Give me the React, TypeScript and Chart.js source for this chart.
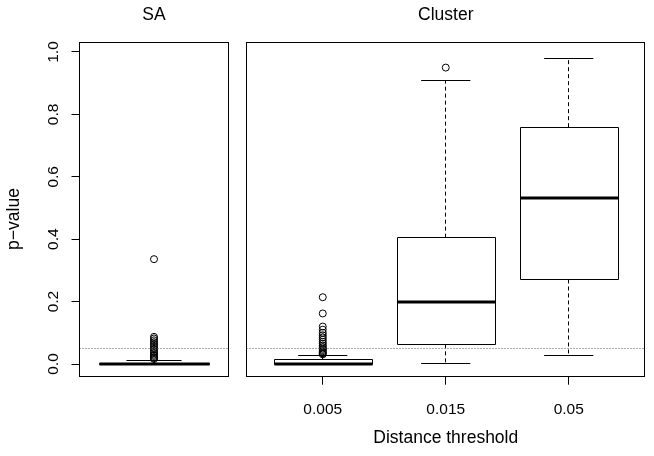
import React, { useEffect, useRef } from "react";
import { Chart, registerables } from "chart.js";

Chart.register(...registerables);

const FONT = "'Liberation Sans', Arial, Helvetica, sans-serif";

const panelTitles = ["SA", "Cluster"];
const clusterCategories = ["0.005", "0.015", "0.05"];
const yTickValues = [0, 0.2, 0.4, 0.6, 0.8, 1.0];
const yLabel = "p\u2212value";
const xLabel = "Distance threshold";
const refLine = 0.05;

// [lower whisker, Q1, median, Q3, upper whisker]
const saStats = [0, 0, 0.0005, 0.002, 0.012];
const saOutliers = [0.336, 0.087, 0.082, 0.076, 0.07, 0.064, 0.058, 0.052, 0.046, 0.04, 0.035, 0.03, 0.026, 0.022, 0.019, 0.016];

const stats0005 = [0, 0, 0.001, 0.014, 0.028];
const stats0015 = [0.001, 0.063, 0.198, 0.405, 0.908];
const stats005 = [0.028, 0.271, 0.533, 0.759, 0.98];

const outliers0005 = [0.214, 0.162, 0.12, 0.11, 0.1, 0.092, 0.085, 0.078, 0.071, 0.065, 0.059, 0.054, 0.049, 0.045, 0.041, 0.037, 0.034, 0.031];
const outliers0015 = [0.95];
const outliers005: number[] = [];

const Y_MIN = -0.0407;
const Y_MAX = 1.0304;

const px = (v: number) => Math.floor(v) + 0.5;

function boxPlugin(stats: number[][], positions: number[]) {
  return {
    id: "boxes",
    beforeDatasetsDraw(chart: any) {
      const { ctx, scales } = chart;
      const x = scales.x;
      const y = scales.y;
      ctx.save();
      ctx.strokeStyle = "#000";
      stats.forEach((s, i) => {
        const pos = positions[i];
        const xc = px(x.getPixelForValue(pos));
        const bl = Math.round(x.getPixelForValue(pos - 0.4)) + 0.5;
        const br = Math.round(x.getPixelForValue(pos + 0.4)) + 0.5;
        const cl = x.getPixelForValue(pos - 0.2);
        const cr = x.getPixelForValue(pos + 0.2);
        const [mn, q1, md, q3, mx] = s.map((v) => y.getPixelForValue(v));
        ctx.lineWidth = 1;
        ctx.setLineDash([4, 3]);
        ctx.beginPath();
        ctx.moveTo(xc, q3);
        ctx.lineTo(xc, mx);
        ctx.moveTo(xc, q1);
        ctx.lineTo(xc, mn);
        ctx.stroke();
        ctx.setLineDash([]);
        ctx.beginPath();
        ctx.moveTo(cl, px(mx));
        ctx.lineTo(cr, px(mx));
        ctx.moveTo(cl, px(mn));
        ctx.lineTo(cr, px(mn));
        ctx.stroke();
        ctx.beginPath();
        ctx.rect(bl, px(q3), br - bl, px(q1) - px(q3));
        ctx.stroke();
        ctx.lineWidth = 3;
        ctx.beginPath();
        ctx.moveTo(bl, Math.round(md));
        ctx.lineTo(br, Math.round(md));
        ctx.stroke();
      });
      ctx.restore();
    },
  };
}

const framePlugin = {
  id: "frame",
  afterDatasetsDraw(chart: any) {
    const { ctx, chartArea, scales } = chart;
    const yy = px(scales.y.getPixelForValue(refLine));
    ctx.save();
    ctx.strokeStyle = "#555";
    ctx.lineWidth = 1;
    ctx.setLineDash([1, 2]);
    ctx.beginPath();
    ctx.moveTo(chartArea.left, yy);
    ctx.lineTo(chartArea.right, yy);
    ctx.stroke();
    ctx.restore();
  },
  afterDraw(chart: any) {
    const { ctx, chartArea } = chart;
    ctx.save();
    ctx.strokeStyle = "#000";
    ctx.lineWidth = 1;
    const l = px(chartArea.left);
    const r = px(chartArea.right - 0.5);
    const t = px(chartArea.top);
    const b = px(chartArea.bottom);
    ctx.strokeRect(l, t, r - l, b - t);
    ctx.restore();
  },
};

const yLabelPlugin = {
  id: "ylabel",
  afterDraw(chart: any) {
    const { ctx } = chart;
    ctx.save();
    ctx.fillStyle = "#000";
    ctx.font = `17.5px ${FONT}`;
    ctx.textAlign = "center";
    ctx.textBaseline = "middle";
    ctx.translate(14.2, 219);
    ctx.rotate(-Math.PI / 2);
    ctx.fillText(yLabel, 0, 0);
    ctx.restore();
  },
};

const pointDataset = (data: { x: number; y: number }[]) => ({
  data,
  pointRadius: 3.5,
  pointHoverRadius: 3.5,
  pointBorderWidth: 1,
  borderColor: "#000",
  backgroundColor: "rgba(0,0,0,0)",
  pointStyle: "circle",
});

const titleOpts = (text: string) => ({
  display: true,
  text,
  fullSize: false,
  color: "#000",
  font: { family: FONT, size: 17.5, weight: "normal", lineHeight: 1 },
  padding: { top: 6.75, bottom: 18.25 },
});

const yScale = (show: boolean) => ({
  type: "linear",
  display: show,
  min: Y_MIN,
  max: Y_MAX,
  afterBuildTicks: (s: any) => {
    s.ticks = yTickValues.map((v) => ({ value: v }));
  },
  afterFit: (s: any) => {
    s.width = show ? 79.5 : 0;
  },
  border: { display: false },
  grid: { drawOnChartArea: false, drawTicks: true, tickLength: 8, color: "#000", lineWidth: 1 },
  ticks: {
    minRotation: 90,
    maxRotation: 90,
    crossAlign: "center",
    padding: 7.4,
    autoSkip: false,
    color: "#000",
    font: { family: FONT, size: 15.5 },
    callback: (v: any) => Number(v).toFixed(1),
  },
});

export default function App() {
  const leftRef = useRef<HTMLCanvasElement>(null);
  const rightRef = useRef<HTMLCanvasElement>(null);

  useEffect(() => {
    const left = new Chart(leftRef.current as HTMLCanvasElement, {
      type: "scatter",
      data: { datasets: [pointDataset(saOutliers.map((v) => ({ x: 1, y: v })))] as any },
      options: {
        animation: false,
        responsive: false,
        events: [],
        layout: { padding: { left: 0, right: 11.5, top: 0, bottom: 79.3 } },
        plugins: {
          legend: { display: false },
          tooltip: { enabled: false },
          title: titleOpts(panelTitles[0]) as any,
        },
        scales: {
          x: { type: "linear", display: false, min: 0.46, max: 1.54 },
          y: yScale(true) as any,
        },
      },
      plugins: [boxPlugin([saStats], [1]), framePlugin, yLabelPlugin],
    });

    const clusterOutliers = [outliers0005, outliers0015, outliers005];
    const right = new Chart(rightRef.current as HTMLCanvasElement, {
      type: "scatter",
      data: {
        datasets: clusterOutliers.map((arr, i) => pointDataset(arr.map((v) => ({ x: i + 1, y: v })))) as any,
      },
      options: {
        animation: false,
        responsive: false,
        events: [],
        layout: { padding: { left: 6.5, right: 9, top: 0, bottom: 0 } },
        plugins: {
          legend: { display: false },
          tooltip: { enabled: false },
          title: titleOpts(panelTitles[1]) as any,
        },
        scales: {
          x: {
            type: "linear",
            min: 0.38,
            max: 3.62,
            afterBuildTicks: (s: any) => {
              s.ticks = clusterCategories.map((_, i) => ({ value: i + 1 }));
            },
            afterFit: (s: any) => {
              s.height = 79.3;
            },
            border: { display: false },
            grid: { drawOnChartArea: false, drawTicks: true, tickLength: 8, color: "#000", lineWidth: 1 },
            ticks: {
              autoSkip: false,
              minRotation: 0,
              maxRotation: 0,
              padding: 15.7,
              color: "#000",
              font: { family: FONT, size: 15.5 },
              callback: (v: any) => clusterCategories[Math.round(Number(v)) - 1] ?? "",
            },
            title: {
              display: true,
              text: xLabel,
              color: "#000",
              font: { family: FONT, size: 17.5, lineHeight: 1 },
              padding: { top: 0, bottom: 8.75 },
            },
          } as any,
          y: yScale(false) as any,
        },
      },
      plugins: [boxPlugin([stats0005, stats0015, stats005], [1, 2, 3]), framePlugin],
    });

    return () => {
      left.destroy();
      right.destroy();
    };
  }, []);

  return (
    <div style={{ position: "fixed", left: 0, top: 0, width: 654, height: 456, background: "#fff" }}>
      <canvas ref={leftRef} width={240} height={456} style={{ position: "absolute", left: 0, top: 0, width: 240, height: 456 }} />
      <canvas ref={rightRef} width={414} height={456} style={{ position: "absolute", left: 240, top: 0, width: 414, height: 456 }} />
    </div>
  );
}
